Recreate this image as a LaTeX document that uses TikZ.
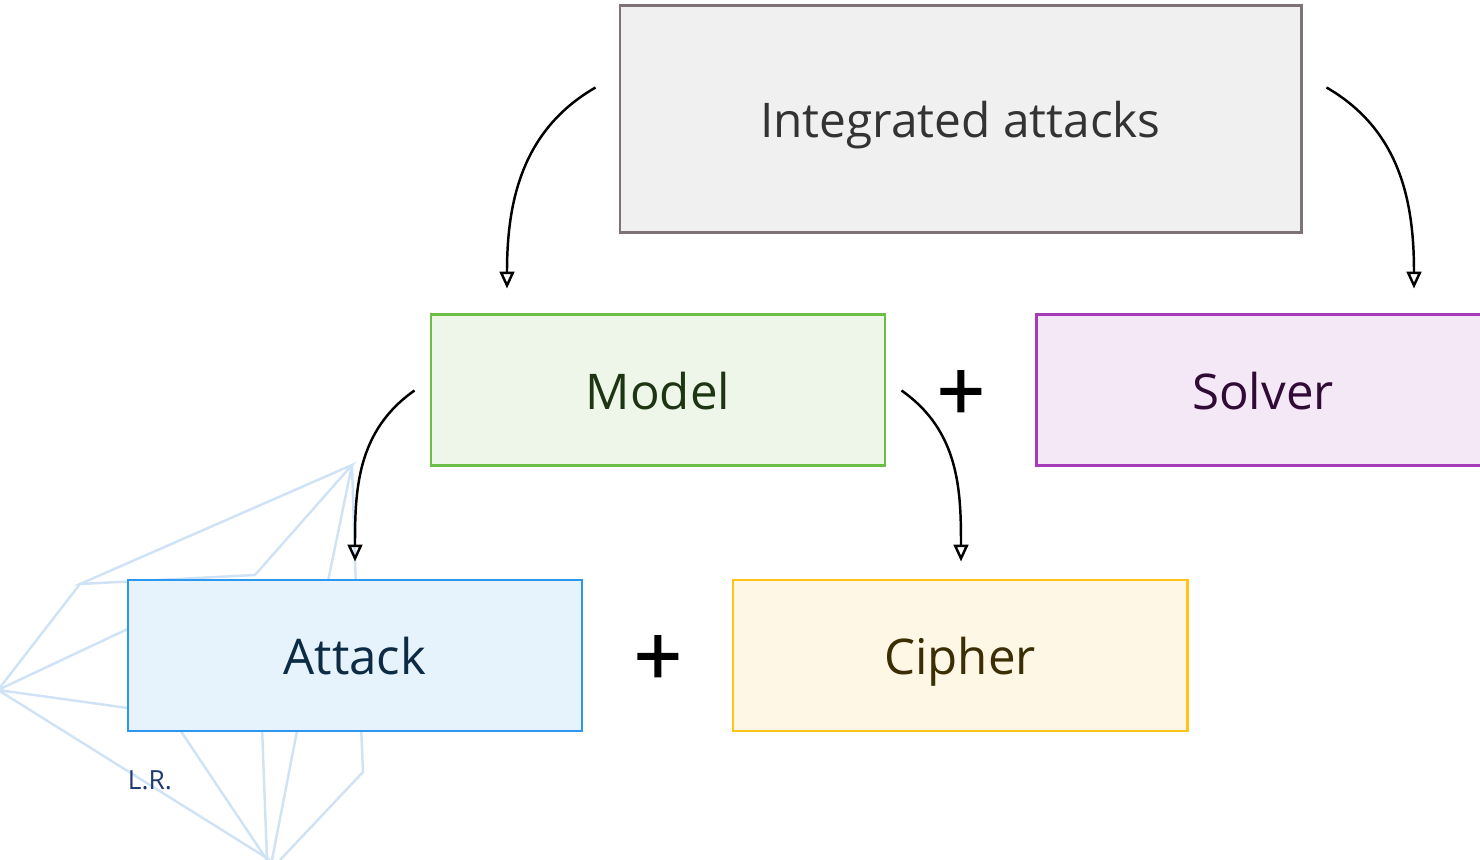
\documentclass[tikz,border=0pt]{standalone}
\usepackage{fontspec}
\setmainfont{Open Sans}
\newfontface\plusfont{Open Sans}[FakeBold=1.6]
\usepackage{xcolor}
\usetikzlibrary{arrows.meta}

\definecolor{bgline}{HTML}{D0E2F5}
\definecolor{intfill}{HTML}{F0F0F0}
\definecolor{intdraw}{HTML}{7D7377}
\definecolor{modfill}{HTML}{EEF6EA}
\definecolor{moddraw}{HTML}{6CBE45}
\definecolor{modtext}{HTML}{1D3512}
\definecolor{solfill}{HTML}{F4E7F6}
\definecolor{soldraw}{HTML}{A53BB7}
\definecolor{soltext}{HTML}{300B36}
\definecolor{attfill}{HTML}{E6F2FC}
\definecolor{attdraw}{HTML}{2B97EF}
\definecolor{atttext}{HTML}{0C2B45}
\definecolor{cipfill}{HTML}{FFF7E6}
\definecolor{cipdraw}{HTML}{FFC417}
\definecolor{ciptext}{HTML}{3B2D04}
\definecolor{lrtext}{HTML}{1F3A70}

\begin{document}
\begin{tikzpicture}[
    box/.style={draw,line width=0.85pt,minimum width=4.54cm,minimum height=1.51cm,
      text depth=0pt,font=\fontsize{14}{17}\selectfont},
    conn/.style={line width=0.7pt,-{Triangle[open,length=4.8pt,width=4.2pt]}},
    bg/.style={bgline,line width=0.7pt},
    plus/.style={font=\plusfont\fontsize{24}{28}\selectfont}
  ]
      \useasboundingbox (0, 0) rectangle (14.8, 8.6);
      % background web
      \begin{scope}
        \clip (0, 0) rectangle (14.8, 8.6);
        \draw[bg] (3.52, 3.95) -- (0.80, 2.76) -- (2.55, 2.85) -- cycle;
        \draw[bg] (3.52, 3.95) -- (3.20, 2.40);
        \draw[bg] (3.52, 3.95) -- (3.57, 2.40);
        \draw[bg] (0.80, 2.76) -- (-0.02, 1.70);
        \draw[bg] (2.00, 2.65) -- (-0.02, 1.70) -- (2.00, 1.42);
        \draw[bg] (-0.02, 1.70) -- (2.70, 0.00);
        \draw[bg] (1.60, 1.60) -- (2.67, 0.00);
        \draw[bg] (2.61, 1.60) -- (2.67, 0.00);
        \draw[bg] (3.03, 1.60) -- (2.72, 0.00);
        \draw[bg] (3.60, 1.60) -- (3.63, 0.88) -- (2.80, 0.00);
      \end{scope}
      % boxes
      \node[box,minimum width=6.81cm,minimum height=2.27cm,fill=intfill,draw=intdraw,
        text=black!80,font=\fontsize{13.6}{16}\selectfont] (integ) at (9.605, 7.405)
        {Integrated attacks};
      \node[box,fill=modfill,draw=moddraw,text=modtext] (model) at (6.58, 4.695) {Model};
      \node[box,fill=solfill,draw=soldraw,text=soltext] (solver) at (12.63, 4.695) {Solver};
      \node[box,fill=attfill,draw=attdraw,text=atttext] (attack) at (3.55, 2.045) {Attack};
      \node[box,fill=cipfill,draw=cipdraw,text=ciptext] (cipher) at (9.60, 2.045) {Cipher};
      \node[plus] (plusa) at (9.61, 4.64) {+};
      \node[plus] (plusb) at (6.58, 1.99) {+};
      \node[text=lrtext,font=\fontsize{7.5}{9}\selectfont] (lr) at (1.50, 0.80) {L.R.};
      % arrows
      \draw[conn] ([xshift=-0.23cm,yshift=0.32cm]integ.west) to[out=210,in=90]
        ([xshift=-1.51cm,yshift=0.25cm]model.north);
      \draw[conn] ([xshift=0.24cm,yshift=0.32cm]integ.east) to[out=-30,in=90]
        ([xshift=1.51cm,yshift=0.25cm]solver.north);
      \draw[conn] ([xshift=-0.15cm]model.west) to[out=215,in=90]
        ([yshift=0.17cm]attack.north);
      \draw[conn] ([xshift=0.15cm]model.east) to[out=-35,in=90]
        ([xshift=0.01cm,yshift=0.17cm]cipher.north);
    \end{tikzpicture}
\end{document}
